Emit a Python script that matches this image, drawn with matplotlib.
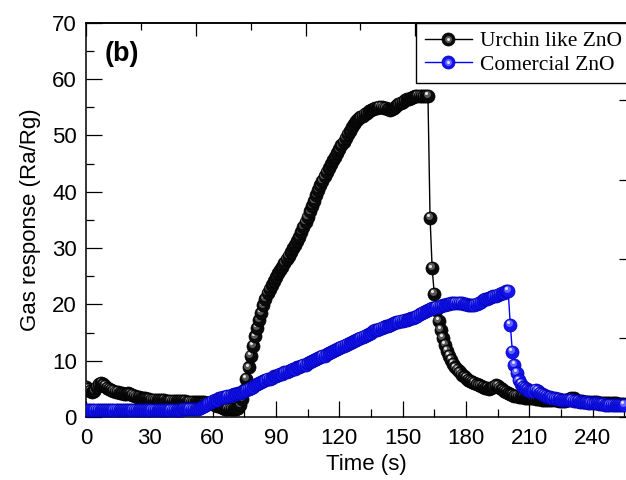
import matplotlib
matplotlib.use("Agg")
import matplotlib.pyplot as plt
from matplotlib.transforms import ScaledTranslation
from matplotlib.lines import Line2D
from matplotlib.legend_handler import HandlerTuple
from matplotlib.ticker import MultipleLocator

# time axis (s), one reading per second
time_s = list(range(256))

# gas response (Ra/Rg)
urchin_zno = [
    5.3, 5.0, 4.7, 4.5, 4.7, 5.3, 5.8, 6.0, 5.8, 5.5,
    5.2, 5.0, 4.8, 4.6, 4.5, 4.4, 4.3, 4.2, 4.1, 4.1,
    4.2, 4.1, 3.9, 3.7, 3.6, 3.5, 3.4, 3.3, 3.3, 3.2,
    3.2, 3.1, 3.1, 3.1, 3.0, 3.0, 3.0, 3.0, 2.9, 2.9,
    2.9, 2.9, 2.9, 2.8, 2.8, 2.8, 2.8, 2.8, 2.7, 2.7,
    2.7, 2.7, 2.7, 2.6, 2.6, 2.6, 2.6, 2.5, 2.5, 2.4,
    2.3, 2.2, 2.0, 1.9, 1.8, 1.6, 1.5, 1.5, 1.4, 1.4,
    1.4, 1.5, 1.6, 2.2, 3.2, 4.8, 6.8, 8.8, 10.8, 12.6,
    14.3, 15.8, 17.2, 18.5, 19.8, 21.0, 22.0, 22.8, 23.5, 24.2,
    24.9, 25.5, 26.1, 26.7, 27.3, 28.0, 28.6, 29.3, 30.0, 30.6,
    31.2, 32.0, 32.9, 33.8, 34.6, 35.5, 36.5, 37.5, 38.4, 39.4,
    40.3, 41.1, 41.9, 42.7, 43.5, 44.2, 44.9, 45.6, 46.2, 46.9,
    47.5, 48.2, 48.9, 49.5, 50.2, 50.8, 51.4, 52.0, 52.5, 52.9,
    53.2, 53.5, 53.8, 54.0, 54.3, 54.5, 54.6, 54.8, 54.9, 55.0,
    55.0, 54.9, 54.8, 54.6, 54.5, 54.6, 54.9, 55.2, 55.5, 55.8,
    56.0, 56.2, 56.4, 56.5, 56.6, 56.8, 56.9, 57.0, 57.0, 57.0,
    56.9, 57.0, 57.0, 35.3, 26.4, 21.8, 19.0, 17.0, 15.4, 14.0,
    12.8, 11.8, 10.9, 10.1, 9.4, 8.8, 8.3, 7.9, 7.5, 7.2,
    6.9, 6.6, 6.4, 6.2, 6.0, 5.8, 5.6, 5.5, 5.3, 5.2,
    5.1, 5.0, 5.1, 5.4, 5.6, 5.5, 5.2, 4.9, 4.6, 4.4,
    4.2, 4.0, 3.9, 3.8, 3.7, 3.6, 3.5, 3.5, 3.4, 3.4,
    3.3, 3.3, 3.3, 3.2, 3.2, 3.2, 3.1, 3.1, 3.1, 3.0,
    3.0, 3.0, 3.0, 3.0, 2.9, 2.9, 2.9, 2.9, 3.0, 3.2,
    3.4, 3.3, 3.1, 2.9, 2.8, 2.8, 2.7, 2.7, 2.7, 2.6,
    2.6, 2.6, 2.6, 2.5, 2.5, 2.5, 2.5, 2.4, 2.4, 2.4,
    2.4, 2.4, 2.3, 2.3, 2.3, 2.3,
]

commercial_zno = [
    1.3, 1.2, 1.2, 1.2, 1.3, 1.2, 1.2, 1.2, 1.2, 1.2,
    1.2, 1.2, 1.2, 1.2, 1.2, 1.2, 1.2, 1.2, 1.2, 1.2,
    1.2, 1.2, 1.2, 1.3, 1.2, 1.2, 1.2, 1.2, 1.3, 1.3,
    1.3, 1.3, 1.3, 1.3, 1.3, 1.3, 1.3, 1.3, 1.3, 1.3,
    1.3, 1.3, 1.3, 1.3, 1.3, 1.3, 1.4, 1.4, 1.4, 1.4,
    1.4, 1.4, 1.4, 1.5, 1.6, 1.8, 2.0, 2.2, 2.4, 2.6,
    2.8, 3.0, 3.1, 3.3, 3.4, 3.5, 3.6, 3.7, 3.8, 3.9,
    4.0, 4.1, 4.2, 4.3, 4.4, 4.6, 4.8, 5.0, 5.2, 5.4,
    5.6, 5.8, 6.0, 6.2, 6.4, 6.5, 6.7, 6.8, 7.0, 7.2,
    7.3, 7.5, 7.6, 7.7, 7.9, 8.0, 8.2, 8.3, 8.5, 8.6,
    8.8, 8.9, 9.0, 9.2, 9.3, 9.5, 9.7, 9.9, 10.1, 10.3,
    10.5, 10.6, 10.8, 10.9, 11.1, 11.3, 11.5, 11.7, 11.9, 12.1,
    12.3, 12.5, 12.6, 12.8, 13.0, 13.2, 13.3, 13.5, 13.7, 13.8,
    14.0, 14.2, 14.4, 14.6, 14.8, 15.0, 15.2, 15.4, 15.5, 15.7,
    15.8, 16.0, 16.1, 16.2, 16.4, 16.5, 16.6, 16.8, 16.9, 17.0,
    17.1, 17.2, 17.3, 17.4, 17.5, 17.6, 17.8, 18.0, 18.2, 18.4,
    18.6, 18.8, 19.0, 19.2, 19.3, 19.4, 19.5, 19.6, 19.7, 19.8,
    19.9, 20.0, 20.1, 20.2, 20.2, 20.3, 20.3, 20.3, 20.2, 20.1,
    20.0, 19.9, 19.8, 19.8, 19.9, 20.1, 20.3, 20.5, 20.7, 20.9,
    21.0, 21.1, 21.3, 21.4, 21.5, 21.7, 21.8, 22.0, 22.1, 22.3,
    22.4, 16.4, 11.6, 9.3, 7.8, 6.5, 5.9, 5.4, 5.1, 4.9,
    4.7, 4.6, 4.6, 4.8, 4.6, 4.3, 4.1, 3.9, 3.8, 3.6,
    3.5, 3.4, 3.3, 3.2, 3.2, 3.1, 3.1, 3.0, 3.0, 3.0,
    3.0, 2.9, 2.8, 2.8, 2.7, 2.7, 2.6, 2.6, 2.5, 2.5,
    2.4, 2.4, 2.4, 2.3, 2.3, 2.3, 2.2, 2.2, 2.2, 2.2,
    2.1, 2.1, 2.1, 2.1, 2.1, 2.1,
]

series_labels = ["Urchin like ZnO", "Comercial ZnO"]

# Origin draws extra top/right axes with their own spacing
top_step = 52.0     # s between long top ticks
right_step = 14.05  # response units between right ticks

plt.rcParams['font.family'] = ['Liberation Sans', 'DejaVu Sans']

fig = plt.figure(figsize=(6.26, 4.8), dpi=100)
ax = fig.add_axes([0.1374, 0.13125, 0.8642, 0.8215])

# shaded "ball" markers: body, then a soft and a bright highlight
styles = [
    dict(face='#0a0a0a', edge='#000000', mid='#5a5a5a', light='#e6e6e6', line='black'),
    dict(face='#1414f0', edge='#0000b0', mid='#6464ff', light='#e2e2ff', line='#0000ff'),
]

off_mid = ax.transData + ScaledTranslation(-0.9 / 72, 1.3 / 72, fig.dpi_scale_trans)
off_light = ax.transData + ScaledTranslation(-1.4 / 72, 2.0 / 72, fig.dpi_scale_trans)

handles = []
for vals, st in zip([urchin_zno, commercial_zno], styles):
    ax.plot(time_s, vals, '-', color=st['line'], lw=1.0, zorder=2)
    for x, y in zip(time_s, vals):
        ax.plot([x], [y], 'o', ms=9.4, mfc=st['face'], mec=st['edge'], mew=0.5, zorder=3)
        ax.plot([x], [y], 'o', ms=5.0, mfc=st['mid'], mec='none', transform=off_mid, zorder=3)
        ax.plot([x], [y], 'o', ms=2.2, mfc=st['light'], mec='none', transform=off_light, zorder=3)
    h = (Line2D([], [], color=st['line'], lw=1.0, marker='o', ms=9.4,
                mfc=st['face'], mec=st['edge'], mew=0.5),
         Line2D([], [], ls='none', marker='o', ms=5.0, mfc=st['mid'], mec='none'),
         Line2D([], [], ls='none', marker='o', ms=2.2, mfc=st['light'], mec='none'))
    handles.append(h)

ax.set_xlim(0, 256.3)
ax.set_ylim(0, 70)
ax.xaxis.set_major_locator(MultipleLocator(30))
ax.xaxis.set_minor_locator(MultipleLocator(15))
ax.yaxis.set_major_locator(MultipleLocator(10))
ax.yaxis.set_minor_locator(MultipleLocator(5))
ax.tick_params(which='both', direction='in', width=0.9, labelsize=16, top=False, right=False)
ax.tick_params(which='major', length=11.5)
ax.tick_params(which='minor', length=6)
ax.tick_params(axis='y', pad=6.5)
ax.tick_params(axis='x', pad=8)
for side in ['left', 'bottom', 'top']:
    ax.spines[side].set_linewidth(1.1)
ax.spines['right'].set_visible(False)

top = ax.secondary_xaxis('top', functions=(lambda t: t / top_step, lambda u: u * top_step))
top.xaxis.set_major_locator(MultipleLocator(1))
top.xaxis.set_minor_locator(MultipleLocator(0.5))
top.tick_params(which='both', direction='in', width=0.9, labeltop=False)
top.tick_params(which='major', length=9.5)
top.tick_params(which='minor', length=5)
top.spines['top'].set_linewidth(1.1)

right = ax.secondary_yaxis('right', functions=(lambda v: v / right_step, lambda u: u * right_step))
right.yaxis.set_major_locator(MultipleLocator(1))
right.yaxis.set_minor_locator(MultipleLocator(1))
right.tick_params(which='both', direction='in', width=0.9, length=6, labelright=False)

ax.set_xlabel("Time (s)", fontsize=16, labelpad=5)
ax.xaxis.set_label_coords(0.519, -0.095)
ax.set_ylabel("Gas response (Ra/Rg)", fontsize=16, labelpad=8)

ax.text(0.035, 0.92, "(b)", transform=ax.transAxes, fontsize=19.5,
        fontweight='bold', va='center', ha='left')

leg = fig.legend(handles, series_labels, loc='upper left',
                 bbox_to_anchor=(416 / 626, 1 - 22.7 / 480), bbox_transform=fig.transFigure,
                 handler_map={tuple: HandlerTuple(ndivide=1, pad=0)},
                 frameon=True, fancybox=False, framealpha=1, edgecolor='black',
                 borderaxespad=0, borderpad=0.4, handlelength=2.2, handletextpad=0.35,
                 labelspacing=0.15, prop={'family': 'Liberation Serif', 'size': 15.5})
leg.get_frame().set_linewidth(1.0)

fig.savefig("out.png", dpi=100)
